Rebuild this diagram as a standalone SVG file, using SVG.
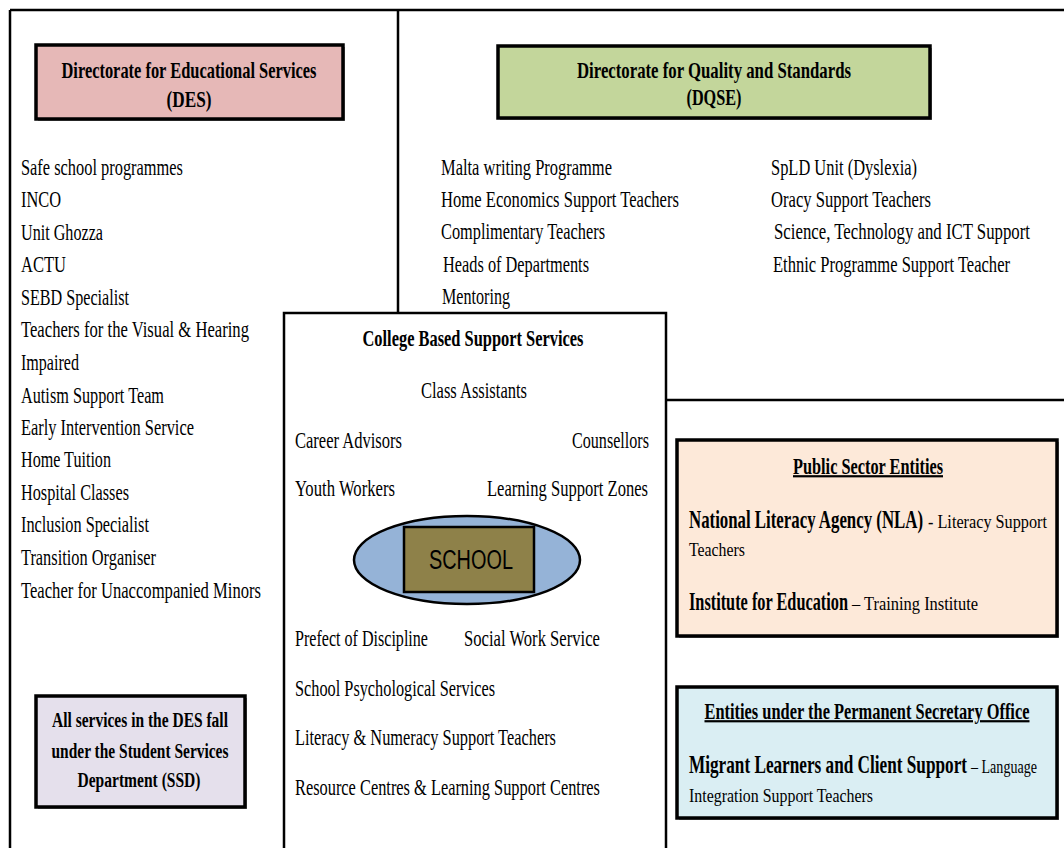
<svg xmlns="http://www.w3.org/2000/svg" width="1064" height="848" viewBox="0 0 1064 848">
<style>
text{font-family:"Liberation Serif","Times New Roman",serif;fill:#000}
.it{font-size:16.55px}
.b{font-weight:bold}
.hd{font-size:15.9px;font-weight:bold}
.big{font-size:17.2px;font-weight:bold}
.ul{font-size:15.2px;font-weight:bold;text-decoration:underline}
.ss{font-size:13.8px;font-weight:bold}
.sm{font-size:12.4px}
.frame{fill:none;stroke:#000;stroke-width:2.5}
.box{stroke:#000;stroke-width:3.5}
.sh{fill:#9a9a9a}
</style>
<rect width="1064" height="848" fill="#fff"/>
<g id="connectors">
<line class="frame" x1="10" y1="10" x2="1064" y2="10"/>
<line class="frame" x1="10" y1="10" x2="10" y2="848"/>
<line class="frame" x1="398" y1="10" x2="398" y2="313"/>
<line class="frame" x1="666" y1="400" x2="1064" y2="400"/>
</g>
<g id="des">
<rect class="sh" x="38" y="47" width="307" height="74"/>
<rect class="box" x="36" y="45" width="307" height="74" fill="#E6B8B7"/>
<text class="hd" transform="scale(1,1.45)" x="189" y="53.79" text-anchor="middle" textLength="255" lengthAdjust="spacingAndGlyphs">Directorate for Educational Services</text>
<text class="hd" transform="scale(1,1.45)" x="189" y="73.79" text-anchor="middle" textLength="45" lengthAdjust="spacingAndGlyphs">(DES)</text>
</g>
<g id="des-list">
<text class="it" transform="scale(1,1.45)" x="21" y="120.69" textLength="162" lengthAdjust="spacingAndGlyphs">Safe school programmes</text>
<text class="it" transform="scale(1,1.45)" x="21" y="143.10" textLength="40" lengthAdjust="spacingAndGlyphs">INCO</text>
<text class="it" transform="scale(1,1.45)" x="21" y="165.52" textLength="82" lengthAdjust="spacingAndGlyphs">Unit Ghozza</text>
<text class="it" transform="scale(1,1.45)" x="21" y="187.93" textLength="45" lengthAdjust="spacingAndGlyphs">ACTU</text>
<text class="it" transform="scale(1,1.45)" x="21" y="210.34" textLength="108" lengthAdjust="spacingAndGlyphs">SEBD Specialist</text>
<text class="it" transform="scale(1,1.45)" x="21" y="232.76" textLength="228" lengthAdjust="spacingAndGlyphs">Teachers for the Visual &amp; Hearing</text>
<text class="it" transform="scale(1,1.45)" x="21" y="255.17" textLength="58" lengthAdjust="spacingAndGlyphs">Impaired</text>
<text class="it" transform="scale(1,1.45)" x="21" y="277.59" textLength="143" lengthAdjust="spacingAndGlyphs">Autism Support Team</text>
<text class="it" transform="scale(1,1.45)" x="21" y="300" textLength="173" lengthAdjust="spacingAndGlyphs">Early Intervention  Service</text>
<text class="it" transform="scale(1,1.45)" x="21" y="322.41" textLength="90" lengthAdjust="spacingAndGlyphs">Home Tuition</text>
<text class="it" transform="scale(1,1.45)" x="21" y="344.83" textLength="108" lengthAdjust="spacingAndGlyphs">Hospital Classes</text>
<text class="it" transform="scale(1,1.45)" x="21" y="367.24" textLength="128" lengthAdjust="spacingAndGlyphs">Inclusion Specialist</text>
<text class="it" transform="scale(1,1.45)" x="21" y="389.66" textLength="135" lengthAdjust="spacingAndGlyphs">Transition Organiser</text>
<text class="it" transform="scale(1,1.45)" x="21" y="412.41" textLength="240" lengthAdjust="spacingAndGlyphs">Teacher for Unaccompanied  Minors</text>
</g>
<g id="ssd">
<rect class="sh" x="38" y="698" width="209" height="111"/>
<rect class="box" x="36" y="696" width="209" height="111" fill="#E5E0EC"/>
<text class="ss" transform="scale(1,1.45)" x="140" y="501.38" text-anchor="middle" textLength="176" lengthAdjust="spacingAndGlyphs">All services in the DES fall</text>
<text class="ss" transform="scale(1,1.45)" x="140" y="522.76" text-anchor="middle" textLength="177" lengthAdjust="spacingAndGlyphs">under the Student Services</text>
<text class="ss" transform="scale(1,1.45)" x="139" y="542.76" text-anchor="middle" textLength="123" lengthAdjust="spacingAndGlyphs">Department (SSD)</text>
</g>
<g id="dqse">
<rect class="sh" x="500" y="48" width="432" height="72"/>
<rect class="box" x="498" y="46" width="432" height="72" fill="#C3D69B"/>
<text class="hd" transform="scale(1,1.45)" x="714" y="53.79" text-anchor="middle" textLength="274" lengthAdjust="spacingAndGlyphs">Directorate for Quality and Standards</text>
<text class="hd" transform="scale(1,1.45)" x="714" y="72.41" text-anchor="middle" textLength="55" lengthAdjust="spacingAndGlyphs">(DQSE)</text>
</g>
<g id="dqse-list">
<text class="it" transform="scale(1,1.45)" x="441" y="120.69" textLength="171" lengthAdjust="spacingAndGlyphs">Malta writing Programme</text>
<text class="it" transform="scale(1,1.45)" x="441" y="142.76" textLength="238" lengthAdjust="spacingAndGlyphs">Home Economics  Support Teachers</text>
<text class="it" transform="scale(1,1.45)" x="441" y="164.83" textLength="164" lengthAdjust="spacingAndGlyphs">Complimentary  Teachers</text>
<text class="it" transform="scale(1,1.45)" x="443" y="187.59" textLength="146" lengthAdjust="spacingAndGlyphs">Heads of Departments</text>
<text class="it" transform="scale(1,1.45)" x="442" y="209.66" textLength="68" lengthAdjust="spacingAndGlyphs">Mentoring</text>
<text class="it" transform="scale(1,1.45)" x="771" y="120.69" textLength="146" lengthAdjust="spacingAndGlyphs">SpLD Unit (Dyslexia)</text>
<text class="it" transform="scale(1,1.45)" x="771" y="142.76" textLength="160" lengthAdjust="spacingAndGlyphs">Oracy Support Teachers</text>
<text class="it" transform="scale(1,1.45)" x="774" y="164.83" textLength="256" lengthAdjust="spacingAndGlyphs">Science, Technology and ICT Support</text>
<text class="it" transform="scale(1,1.45)" x="773" y="187.59" textLength="237" lengthAdjust="spacingAndGlyphs">Ethnic Programme Support Teacher</text>
</g>
<g id="college">
<rect x="284" y="313" width="382" height="545" fill="#fff" stroke="#000" stroke-width="2.5"/>
<text class="hd" transform="scale(1,1.45)" x="473" y="238.62" text-anchor="middle" textLength="221" lengthAdjust="spacingAndGlyphs">College Based Support Services</text>
<text class="it" transform="scale(1,1.45)" x="421" y="274.48" textLength="106" lengthAdjust="spacingAndGlyphs">Class Assistants</text>
<text class="it" transform="scale(1,1.45)" x="295" y="308.97" textLength="107" lengthAdjust="spacingAndGlyphs">Career Advisors</text>
<text class="it" transform="scale(1,1.45)" x="572" y="308.97" textLength="77" lengthAdjust="spacingAndGlyphs">Counsellors</text>
<text class="it" transform="scale(1,1.45)" x="295" y="342.07" textLength="100" lengthAdjust="spacingAndGlyphs">Youth Workers</text>
<text class="it" transform="scale(1,1.45)" x="487" y="342.07" textLength="161" lengthAdjust="spacingAndGlyphs">Learning  Support Zones</text>
<text class="it" transform="scale(1,1.45)" x="295" y="445.52" textLength="133" lengthAdjust="spacingAndGlyphs">Prefect of Discipline</text>
<text class="it" transform="scale(1,1.45)" x="464" y="445.52" textLength="136" lengthAdjust="spacingAndGlyphs">Social Work Service</text>
<text class="it" transform="scale(1,1.45)" x="295" y="480" textLength="200" lengthAdjust="spacingAndGlyphs">School Psychological  Services</text>
<text class="it" transform="scale(1,1.45)" x="295" y="513.79" textLength="261" lengthAdjust="spacingAndGlyphs">Literacy &amp; Numeracy Support Teachers</text>
<text class="it" transform="scale(1,1.45)" x="295" y="548.28" textLength="305" lengthAdjust="spacingAndGlyphs">Resource Centres &amp; Learning Support Centres</text>
</g>
<g id="school">
<ellipse cx="467" cy="560" rx="113" ry="44" fill="#95B3D7" stroke="#000" stroke-width="2.5"/>
<rect x="404" y="527" width="130" height="65" fill="#8E8149" stroke="#000" stroke-width="2.5"/>
<text transform="scale(1,1.4)" x="471" y="406.43" text-anchor="middle" style="font-family:'Liberation Sans',Arial,sans-serif;font-size:20px" textLength="84" lengthAdjust="spacingAndGlyphs">SCHOOL</text>
</g>
<g id="public">
<rect class="sh" x="679" y="442" width="380" height="196"/>
<rect class="box" x="677" y="440" width="380" height="196" fill="#FDE9D9"/>
<text class="ul" transform="scale(1,1.45)" x="868" y="326.90" text-anchor="middle" textLength="150" lengthAdjust="spacingAndGlyphs">Public Sector Entities</text>
<text class="big" transform="scale(1,1.45)" x="689" y="364.14" textLength="234" lengthAdjust="spacingAndGlyphs">National Literacy Agency (NLA)</text>
<text class="sm" transform="scale(1,1.45)" x="928" y="364.14" textLength="119" lengthAdjust="spacingAndGlyphs">- Literacy Support</text>
<text class="sm" transform="scale(1,1.45)" x="689" y="383.45" textLength="56" lengthAdjust="spacingAndGlyphs">Teachers</text>
<text class="big" transform="scale(1,1.45)" x="689" y="420.69" textLength="159" lengthAdjust="spacingAndGlyphs">Institute for Education</text>
<text class="sm" transform="scale(1,1.45)" x="852" y="420.69" textLength="126" lengthAdjust="spacingAndGlyphs">– Training Institute</text>
</g>
<g id="permsec">
<rect class="sh" x="679" y="689" width="380" height="131"/>
<rect class="box" x="677" y="687" width="380" height="131" fill="#DAEEF3"/>
<text class="ul" transform="scale(1,1.45)" x="867" y="495.86" text-anchor="middle" textLength="325" lengthAdjust="spacingAndGlyphs">Entities under the Permanent Secretary Office</text>
<text class="big" transform="scale(1,1.45)" x="689" y="533.10" textLength="278" lengthAdjust="spacingAndGlyphs">Migrant  Learners  and  Client  Support</text>
<text class="sm" transform="scale(1,1.45)" x="971" y="533.10" textLength="66" lengthAdjust="spacingAndGlyphs">– Language</text>
<text class="sm" transform="scale(1,1.45)" x="689" y="553.10" textLength="184" lengthAdjust="spacingAndGlyphs">Integration Support Teachers</text>
</g>
</svg>
